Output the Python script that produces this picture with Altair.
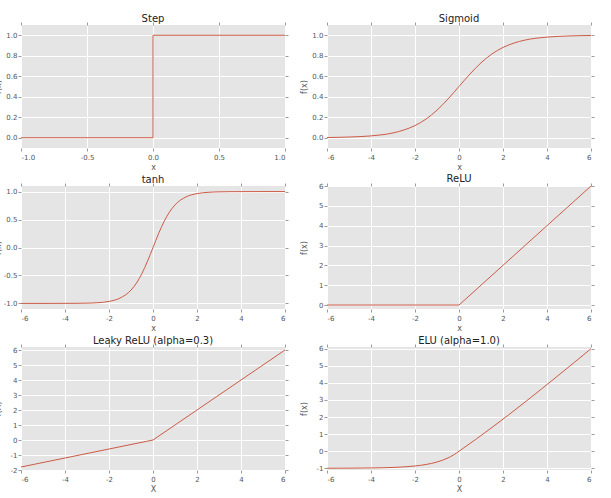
import altair as alt
import pandas as pd

# ---- data ----
step_x = [-1.0, 0.0, 1.0]
step_y = [0.0, 1.0, 1.0]

sig_x = [-6, -5.5, -5, -4.5, -4, -3.5, -3, -2.5, -2, -1.5, -1, -0.5, 0,
         0.5, 1, 1.5, 2, 2.5, 3, 3.5, 4, 4.5, 5, 5.5, 6]
sig_y = [0.002, 0.004, 0.007, 0.011, 0.018, 0.029, 0.047, 0.076, 0.119, 0.182,
         0.269, 0.378, 0.5, 0.622, 0.731, 0.818, 0.881, 0.924, 0.953, 0.971,
         0.982, 0.989, 0.993, 0.996, 0.998]

tanh_x = [-6, -5, -4, -3.5, -3, -2.5, -2, -1.5, -1, -0.75, -0.5, -0.25, 0,
          0.25, 0.5, 0.75, 1, 1.5, 2, 2.5, 3, 3.5, 4, 5, 6]
tanh_y = [-1.0, -1.0, -0.999, -0.998, -0.995, -0.987, -0.964, -0.905, -0.762,
          -0.635, -0.462, -0.245, 0.0, 0.245, 0.462, 0.635, 0.762, 0.905,
          0.964, 0.987, 0.995, 0.998, 0.999, 1.0, 1.0]

relu_x = [-6, 0, 6]
relu_y = [0, 0, 6]

leaky_x = [-6, 0, 6]
leaky_y = [-1.8, 0, 6]

elu_x = [-6, -5, -4, -3.5, -3, -2.5, -2, -1.5, -1, -0.75, -0.5, -0.25, 0, 6]
elu_y = [-0.998, -0.993, -0.982, -0.970, -0.950, -0.918, -0.865, -0.777,
         -0.632, -0.528, -0.393, -0.221, 0.0, 6.0]

LINE = "#CC5B45"
FONT = "DejaVu Sans"
W, H = 264, 123
HYPHEN = "replace(datum.label, '\u2212', '-')"


def panel(xs, ys, title, xdom, ydom, xticks, yticks, xlab, ylab,
          interp="monotone", xfmt="d", yfmt="d"):
    df = pd.DataFrame({"x": xs, "y": ys})
    base_axis = dict(grid=True, gridColor="white", gridWidth=1, domain=False,
                     tickColor="#9a9a9a", tickSize=3, labelColor="#555555",
                     labelFontSize=7, labelFont=FONT, titleFont=FONT,
                     titleFontSize=8, titleColor="#555555", titleFontWeight="normal",
                     labelExpr=HYPHEN)
    xax = alt.Axis(values=xticks, format=xfmt, title=xlab, titlePadding=2,
                   labelPadding=2, minExtent=13, maxExtent=13, **base_axis)
    yax = alt.Axis(values=yticks, format=yfmt, title=ylab, titlePadding=3,
                   labelPadding=1, minExtent=16, maxExtent=16, **base_axis)
    line = alt.Chart(df).mark_line(color=LINE, strokeWidth=1, interpolate=interp).encode(
        x=alt.X("x:Q", scale=alt.Scale(domain=xdom, nice=False, zero=False), axis=xax),
        y=alt.Y("y:Q", scale=alt.Scale(domain=ydom, nice=False, zero=False), axis=yax),
    )
    side_axis = dict(grid=False, domain=False, labels=False, title=None,
                     tickColor="#9a9a9a", tickSize=3)
    ghost = alt.Chart(df).mark_line(opacity=0).encode(
        x=alt.X("x:Q", axis=alt.Axis(values=xticks, orient="top", **side_axis)),
        y=alt.Y("y:Q", axis=alt.Axis(values=yticks, orient="right", **side_axis)),
    )
    return alt.layer(line, ghost).resolve_axis(x="independent", y="independent").properties(
        width=W, height=H,
        title=alt.TitleParams(title, fontSize=10, font=FONT, fontWeight="normal",
                              color="#222222", offset=-2),
    )


xt6 = [-6, -4, -2, 0, 2, 4, 6]
p1 = panel(step_x, step_y, "Step", [-1, 1], [-0.1, 1.1], [-1, -0.5, 0, 0.5, 1],
           [0, 0.2, 0.4, 0.6, 0.8, 1.0], "x", "f(x)", interp="step-after",
           xfmt=".1f", yfmt=".1f")
p2 = panel(sig_x, sig_y, "Sigmoid", [-6, 6], [-0.1, 1.1], xt6,
           [0, 0.2, 0.4, 0.6, 0.8, 1.0], "x", "f(x)", yfmt=".1f")
p3 = panel(tanh_x, tanh_y, "tanh", [-6, 6], [-1.1, 1.1], xt6,
           [-1, -0.5, 0, 0.5, 1], "x", "f(x)", yfmt=".1f")
p4 = panel(relu_x, relu_y, "ReLU", [-6, 6], [-0.2, 6], xt6,
           [0, 1, 2, 3, 4, 5, 6], "x", "f(x)", interp="linear")
p5 = panel(leaky_x, leaky_y, "Leaky ReLU (alpha=0.3)", [-6, 6], [-2, 6.2], xt6,
           [-2, -1, 0, 1, 2, 3, 4, 5, 6], "X", "f(X)", interp="linear")
p6 = panel(elu_x, elu_y, "ELU (alpha=1.0)", [-6, 6], [-1.1, 6.1], xt6,
           [-1, 0, 1, 2, 3, 4, 5, 6], "X", "f(x)")

chart = alt.concat(p1, p2, p3, p4, p5, p6, columns=2,
                   spacing={"row": 3, "column": 11}).properties(
    padding={"left": -6, "top": 13, "right": 4, "bottom": 0},
    background="white",
).configure_view(fill="#E5E5E5", stroke=None)

chart.save("out.html", embed_options={"renderer": "svg", "actions": False})
